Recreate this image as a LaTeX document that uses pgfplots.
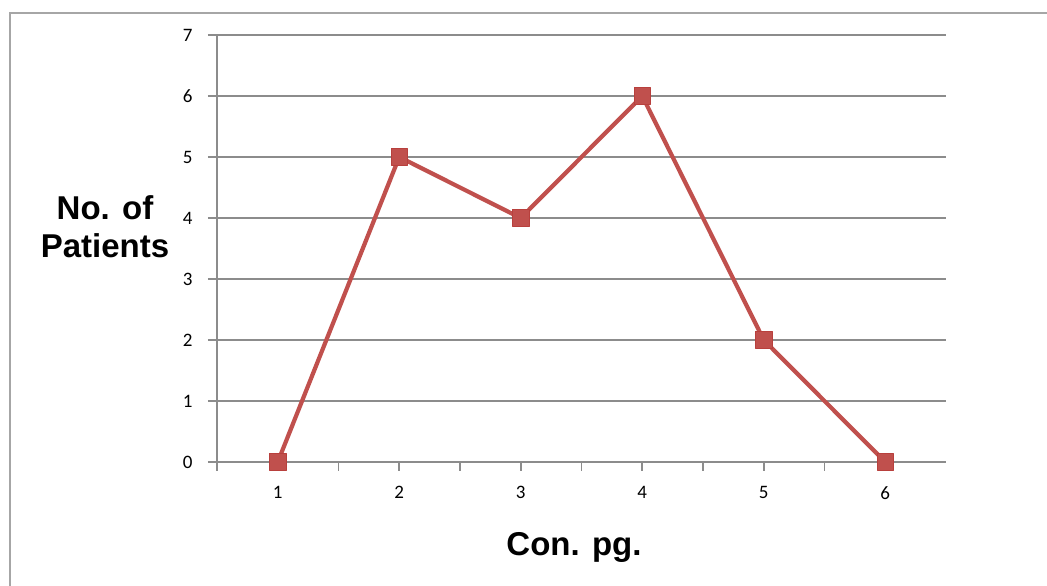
\documentclass[border=0pt]{standalone}
\usepackage{pgfplots}
\pgfplotsset{compat=1.18}
\usepackage{fontspec}
\setmainfont{Carlito}
\newfontfamily\arial{Liberation Sans}
\definecolor{exred}{HTML}{C0504D}
\definecolor{exredd}{HTML}{B8403D}
\definecolor{gridgray}{HTML}{8C8C8C}
\definecolor{bordergray}{HTML}{A6A6A6}
\begin{document}
\begin{tikzpicture}[x=1pt,y=1pt]
\useasboundingbox (0,0) rectangle (1047,586);
\draw[bordergray, line width=2pt] (10,-5) -- (10,573) -- (1060,573);
\begin{axis}[
  at={(217pt,124pt)}, anchor=south west,
  scale only axis, width=729pt, height=427pt,
  xmin=0.5, xmax=6.5, ymin=0, ymax=7,
  axis x line*=bottom, axis y line*=left,
  axis line style={gridgray, line width=1.6pt},
  xtick={1,2,3,4,5,6},
  minor xtick={0.5,1.5,2.5,3.5,4.5,5.5},
  ytick={0,1,2,3,4,5,6,7},
  ymajorgrids,
  major grid style={gridgray, line width=1.6pt},
  tick style={gridgray, line width=1.6pt},
  major tick length=9pt, minor tick length=9pt,
  tick align=outside,
  /pgf/number format/assume math mode=true,
  ticklabel style={font=\fontsize{19}{19}\selectfont, text=black},
  yticklabel style={xshift=-12pt},
  xticklabel style={yshift=-12pt},
  clip=false,
]
\addplot[exred, line width=4.2pt, line join=round, mark=square*,
  mark size=8.3pt, mark options={fill=exred, draw=exredd, line width=0.8pt}]
  coordinates {(1,0) (2,5) (3,4) (4,6) (5,2) (6,0)};
\end{axis}
\node[align=center, font=\arial\bfseries\fontsize{33}{38}\selectfont] at (105,359) {No. of\\Patients};
\node[font=\arial\bfseries\fontsize{33}{36}\selectfont] at (574,39) {Con. pg.};
\end{tikzpicture}
\end{document}
